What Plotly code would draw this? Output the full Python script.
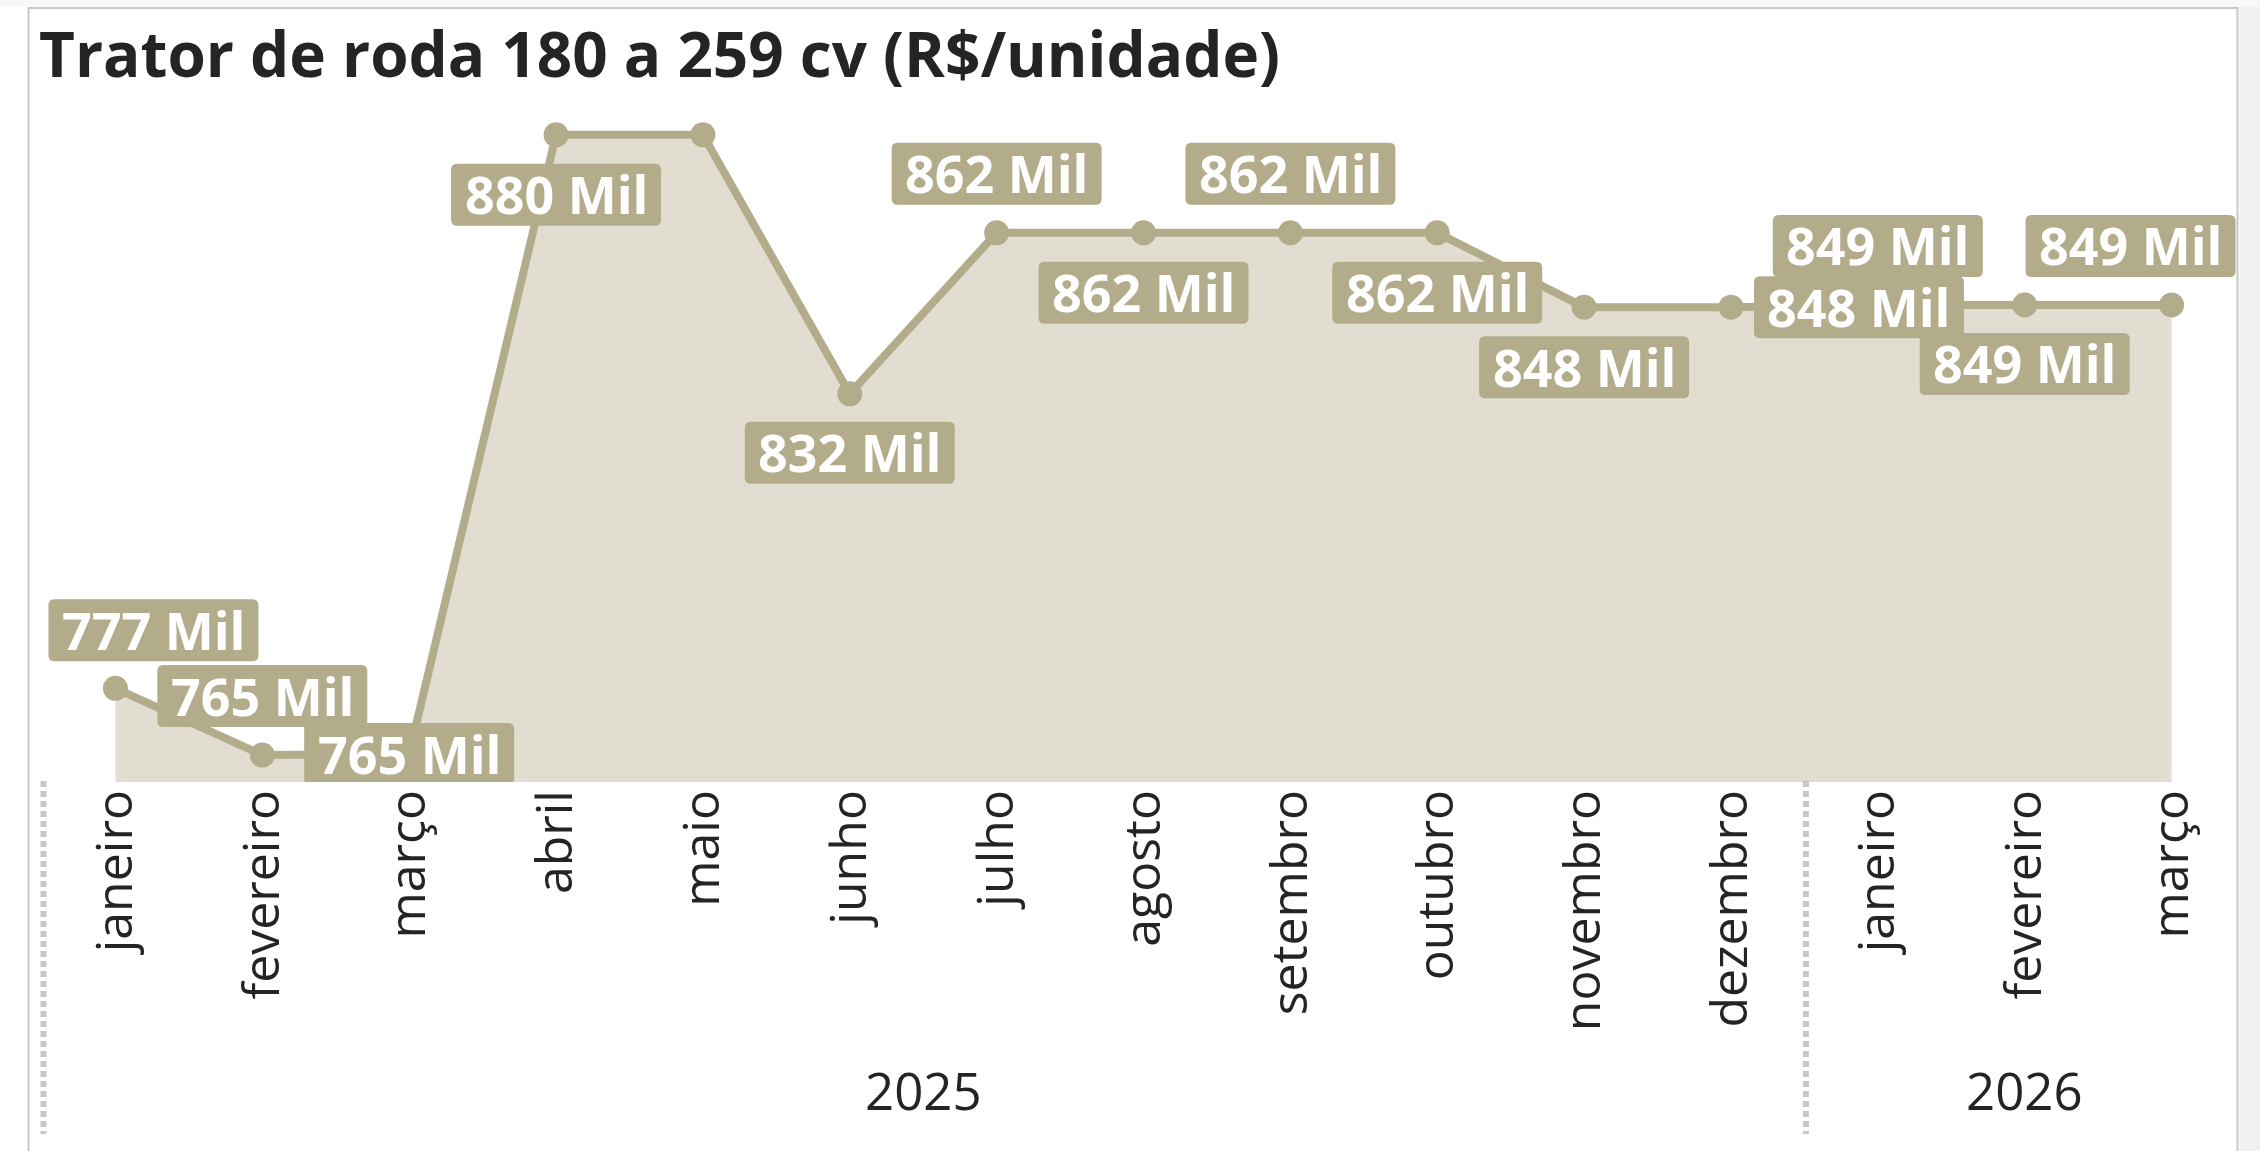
import plotly.graph_objects as go

# ---------------- data ----------------
months = ["janeiro", "fevereiro", "março", "abril", "maio", "junho", "julho",
          "agosto", "setembro", "outubro", "novembro", "dezembro",
          "janeiro", "fevereiro", "março"]
years = [2025] * 12 + [2026] * 3
values_mil = [777.4, 765.0, 765.2, 880.2, 880.2, 832.1, 862.0, 862.0,
              862.0, 862.0, 848.2, 848.2, 848.6, 848.6, 848.6]
title_text = "Trator de roda 180 a 259 cv (R$/unidade)"

# label placement (pixel offsets from each point: dx right, dy down); None = hidden
label_offsets = [(38, -58), (0, -59), (0, 0), (0, 60), None, (0, 59), (0, -59),
                 (0, 60), (0, -59), (0, 60), (0, 60), (128, 0), (0, -59),
                 (0, 59), (-41, -59)]
# drawing order of labels (later = on top)
label_order = [0, 1, 2, 3, 5, 6, 7, 8, 9, 10, 12, 13, 14, 11]

# ---------------- style ----------------
LINE = "#b3ac8b"
FILL = "rgba(179,172,139,0.4)"
TEXT = "#252423"
FONT = "Open Sans"
BOX_W, BOX_H, BOX_R = 210, 62, 6

W, H = 2260, 1151
ML, MR, MT, MB = 41.5, 14.5, 109, 369
PW = W - ML - MR
PH = H - MT - MB


def px_x(px):
    return (px - ML) / PW


def px_y(py):
    return (H - MB - py) / PH


def rounded_box(cx, cy, w, h, r):
    # pixel path relative to anchor; +y is up
    l, rr, b, t = cx - w / 2, cx + w / 2, cy - h / 2, cy + h / 2
    return (f"M {l + r},{b} L {rr - r},{b} Q {rr},{b} {rr},{b + r} "
            f"L {rr},{t - r} Q {rr},{t} {rr - r},{t} L {l + r},{t} "
            f"Q {l},{t} {l},{t - r} L {l},{b + r} Q {l},{b} {l + r},{b} Z")


idx = list(range(len(months)))
x_range = [-0.5, len(idx) - 0.5]

fig = go.Figure()
fig.add_trace(go.Scatter(
    x=idx, y=values_mil, mode="lines+markers",
    line=dict(color=LINE, width=8),
    marker=dict(color=LINE, size=25),
    fill="tozeroy", fillcolor=FILL,
    hoverinfo="skip", showlegend=False, cliponaxis=False,
))

shapes = []
annotations = []
for i in label_order:
    off = label_offsets[i]
    if off is None:
        continue
    dx, dy = off[0], -off[1]
    shapes.append(dict(
        type="path", xref="x", yref="y", xsizemode="pixel", ysizemode="pixel",
        xanchor=idx[i], yanchor=values_mil[i],
        path=rounded_box(dx, dy, BOX_W, BOX_H, BOX_R),
        fillcolor=LINE, line=dict(width=0), layer="above",
    ))
    annotations.append(dict(
        x=idx[i], y=values_mil[i], xref="x", yref="y",
        text=f"{round(values_mil[i])} Mil", showarrow=False,
        xshift=dx, yshift=dy + 1,
        font=dict(family=FONT, size=52, color="white", weight="bold"),
        xanchor="center", yanchor="middle",
    ))

# year group labels
for yr in sorted(set(years)):
    members = [i for i in idx if years[i] == yr]
    center = (members[0] + members[-1]) / 2
    annotations.append(dict(
        x=center, y=px_y(1090), xref="x", yref="paper",
        text=str(yr), showarrow=False,
        font=dict(family=FONT, size=51, color=TEXT),
        xanchor="center", yanchor="middle",
    ))

# container border and right shadow
shapes.insert(0, dict(type="rect", xref="paper", yref="paper",
                      x0=px_x(2240), x1=px_x(2262), y0=px_y(1160), y1=px_y(0),
                      fillcolor="#f1f1f1", line=dict(width=0), layer="below"))
shapes.insert(1, dict(type="rect", xref="paper", yref="paper",
                      x0=px_x(-5), x1=px_x(2265), y0=px_y(7), y1=px_y(-5),
                      fillcolor="#f8f8f8", line=dict(width=0), layer="below"))
shapes.insert(2, dict(type="rect", xref="paper", yref="paper",
                      x0=px_x(28), x1=px_x(2238), y0=px_y(1170), y1=px_y(8),
                      fillcolor="rgba(0,0,0,0)", line=dict(color="#c8c8c8", width=2),
                      layer="below"))
# dotted year separators at category boundaries (mapped to paper fraction)
bounds = [-0.5] + [i + 0.5 for i in idx[:-1] if years[i] != years[i + 1]]
for b in bounds:
    xp = (b - x_range[0]) / (x_range[1] - x_range[0]) + 1.5 / PW
    shapes.append(dict(type="line", xref="paper", yref="paper",
                       x0=xp, x1=xp, y0=px_y(781), y1=px_y(1134),
                       line=dict(color="#c8c8c8", width=6, dash="6px,4px"),
                       layer="below"))

fig.update_layout(
    width=W, height=H,
    margin=dict(l=ML, r=MR, t=MT, b=MB, pad=0),
    paper_bgcolor="white", plot_bgcolor="white",
    title=dict(text=title_text, x=39 / W, xanchor="left", xref="container",
               y=1 - 34 / H, yanchor="top", yref="container",
               font=dict(family=FONT, size=62, color=TEXT, weight="bold")),
    xaxis=dict(range=x_range, tickmode="array", tickvals=idx,
               ticktext=months, tickangle=-90, ticks="", showgrid=False,
               zeroline=False, showline=False, ticklabelstandoff=-3,
               tickfont=dict(family=FONT, size=50, color=TEXT)),
    yaxis=dict(range=[760, 885], visible=False, showgrid=False, zeroline=False),
    annotations=annotations,
    shapes=shapes,
    showlegend=False,
)

fig.write_html("out.html",
               config={"displayModeBar": False},
               post_script="document.body.style.margin='0px';"
                           "document.body.style.overflow='hidden';")
